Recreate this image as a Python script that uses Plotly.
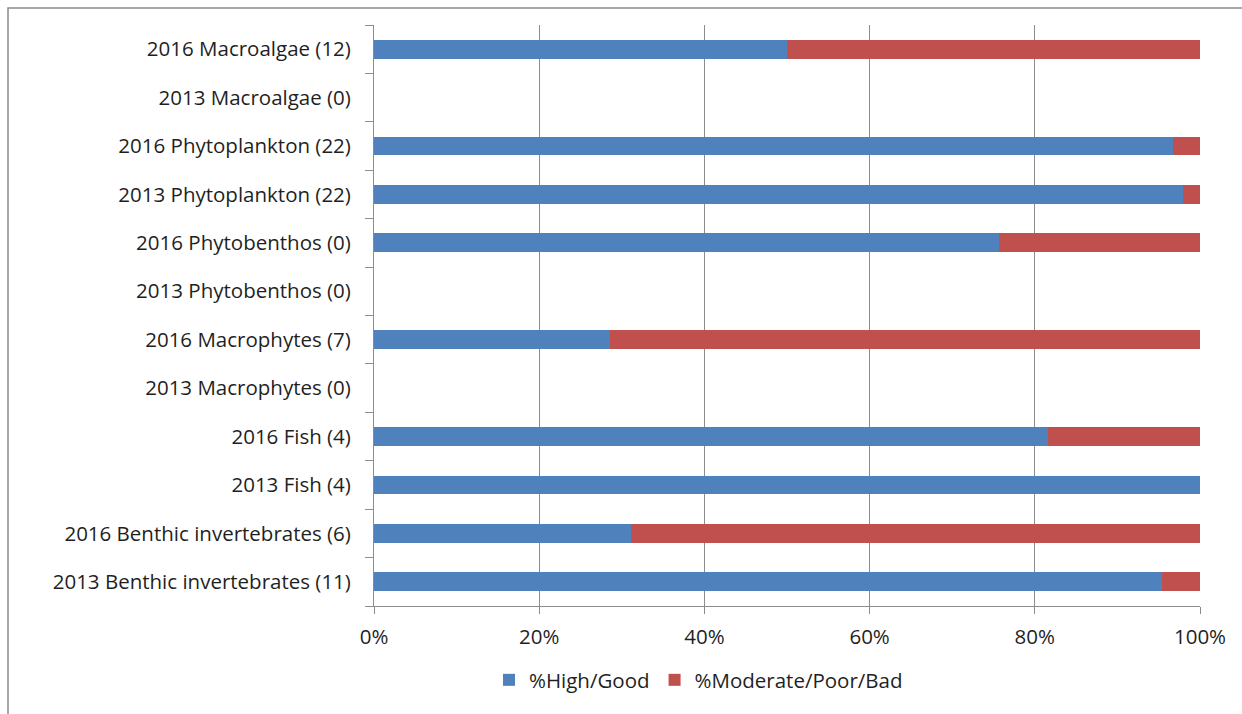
import plotly.graph_objects as go

# Element / year labels, bottom to top as drawn on the category axis
categories = [
    "2013 Benthic invertebrates (11)",
    "2016 Benthic invertebrates (6)",
    "2013 Fish (4)",
    "2016 Fish (4)",
    "2013 Macrophytes (0)",
    "2016 Macrophytes (7)",
    "2013 Phytobenthos (0)",
    "2016 Phytobenthos (0)",
    "2013 Phytoplankton (22)",
    "2016 Phytoplankton (22)",
    "2013 Macroalgae (0)",
    "2016 Macroalgae (12)",
]

# Share of sites in each status class (percent); None = no assessment
high_good = [95.4, 31.1, 100.0, 81.6, None, 28.6, None, 75.7, 98.0, 96.7, None, 50.0]
moderate_poor_bad = [4.6, 68.9, 0.0, 18.4, None, 71.4, None, 24.3, 2.0, 3.3, None, 50.0]

x_ticks = [0, 20, 40, 60, 80, 100]
x_tick_labels = ["0%", "20%", "40%", "60%", "80%", "100%"]

BLUE = "#4F81BD"
RED = "#C0504D"
GRID = "#8C8C8C"
FONT = "'Open Sans', Lato, sans-serif"

fig = go.Figure()
fig.add_trace(go.Bar(
    y=categories, x=high_good, orientation="h",
    name="%High/Good", marker=dict(color=BLUE, line=dict(width=0)),
))
fig.add_trace(go.Bar(
    y=categories, x=moderate_poor_bad, orientation="h",
    name="%Moderate/Poor/Bad", marker=dict(color=RED, line=dict(width=0)),
))

W, H = 1242, 714
L, R, T, B = 374, 42, 25, 108
pw, ph = W - L - R, H - T - B

def px_x(p):
    return (p - L) / pw

def px_y(p):
    return (H - B - p) / ph

fig.update_layout(
    width=W, height=H,
    margin=dict(l=L, r=R, t=T, b=B),
    barmode="stack",
    bargap=0.61,
    paper_bgcolor="white",
    plot_bgcolor="white",
    font=dict(family=FONT, size=20.5, color="#1F1F1F"),
    showlegend=True,
    legend=dict(
        orientation="h",
        x=px_x(489), xanchor="left",
        y=px_y(680), yanchor="middle",
        font=dict(size=20.5),
        itemwidth=30,
        traceorder="normal",
    ),
    xaxis=dict(
        range=[0, 100],
        tickvals=x_ticks,
        ticktext=x_tick_labels,
        showgrid=True, gridcolor=GRID, gridwidth=1,
        showline=True, linecolor=GRID, linewidth=1,
        ticks="outside", ticklen=7, tickcolor=GRID,
        ticklabelstandoff=5,
        zeroline=False,
        fixedrange=True,
    ),
    yaxis=dict(
        type="category",
        categoryorder="array", categoryarray=categories,
        showgrid=False,
        showline=True, linecolor=GRID, linewidth=1,
        ticks="outside", ticklen=8, tickcolor=GRID,
        tickson="boundaries",
        ticklabelstandoff=18,
        fixedrange=True,
    ),
    shapes=[
        dict(
            type="rect", xref="paper", yref="paper",
            x0=px_x(8), x1=px_x(W + 10),
            y0=px_y(H + 10), y1=px_y(8),
            line=dict(color="#8C8C8C", width=1.5),
            fillcolor="rgba(0,0,0,0)", layer="below",
        )
    ],
)

fig.write_html("out.html")
